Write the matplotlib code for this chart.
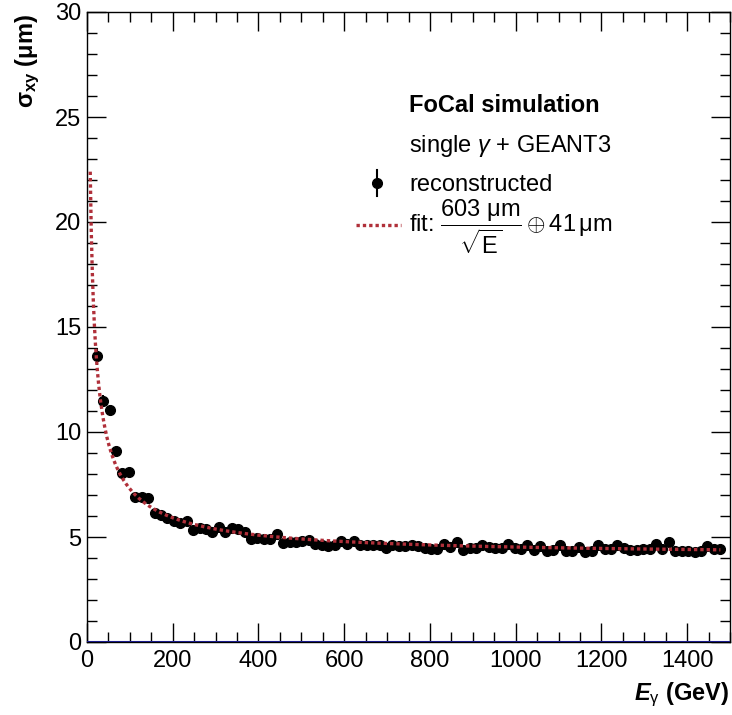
import matplotlib

matplotlib.use("Agg")

import matplotlib.pyplot as plt
import numpy as np
from matplotlib.ticker import MultipleLocator


# photon energy bin centres (GeV), 15 GeV wide bins
E_GAMMA: list[float] = [
    22.5, 37.5, 52.5, 67.5, 82.5, 97.5, 112.5, 127.5, 142.5, 157.5,
    172.5, 187.5, 202.5, 217.5, 232.5, 247.5, 262.5, 277.5, 292.5, 307.5,
    322.5, 337.5, 352.5, 367.5, 382.5, 397.5, 412.5, 427.5, 442.5, 457.5,
    472.5, 487.5, 502.5, 517.5, 532.5, 547.5, 562.5, 577.5, 592.5, 607.5,
    622.5, 637.5, 652.5, 667.5, 682.5, 697.5, 712.5, 727.5, 742.5, 757.5,
    772.5, 787.5, 802.5, 817.5, 832.5, 847.5, 862.5, 877.5, 892.5, 907.5,
    922.5, 937.5, 952.5, 967.5, 982.5, 997.5, 1012.5, 1027.5, 1042.5, 1057.5,
    1072.5, 1087.5, 1102.5, 1117.5, 1132.5, 1147.5, 1162.5, 1177.5, 1192.5, 1207.5,
    1222.5, 1237.5, 1252.5, 1267.5, 1282.5, 1297.5, 1312.5, 1327.5, 1342.5, 1357.5,
    1372.5, 1387.5, 1402.5, 1417.5, 1432.5, 1447.5, 1462.5, 1477.5,
]

# reconstructed position resolution
SIGMA_XY: list[float] = [
    13.60, 11.49, 11.06, 9.11, 8.05, 8.08, 6.90, 6.90, 6.86, 6.14,
    6.03, 5.90, 5.74, 5.69, 5.77, 5.32, 5.42, 5.36, 5.26, 5.46,
    5.25, 5.42, 5.40, 5.22, 4.92, 4.96, 4.92, 4.92, 5.12, 4.72,
    4.76, 4.77, 4.80, 4.88, 4.68, 4.64, 4.58, 4.64, 4.80, 4.66,
    4.82, 4.64, 4.62, 4.63, 4.60, 4.50, 4.60, 4.58, 4.58, 4.62,
    4.55, 4.48, 4.45, 4.43, 4.65, 4.53, 4.77, 4.36, 4.48, 4.48,
    4.64, 4.53, 4.48, 4.50, 4.66, 4.48, 4.45, 4.62, 4.40, 4.58,
    4.32, 4.40, 4.60, 4.32, 4.35, 4.52, 4.30, 4.32, 4.62, 4.45,
    4.45, 4.62, 4.50, 4.40, 4.38, 4.45, 4.42, 4.65, 4.45, 4.75,
    4.35, 4.35, 4.32, 4.30, 4.35, 4.58, 4.45, 4.45,
]

SIGMA_ERR: list[float] = [
    0.40, 0.26, 0.22, 0.18, 0.16, 0.14, 0.13, 0.12, 0.11, 0.10,
    0.10, 0.09, 0.09, 0.09, 0.08, 0.08, 0.08, 0.08, 0.08, 0.08,
    0.07, 0.07, 0.07, 0.07, 0.07, 0.07, 0.07, 0.07, 0.07, 0.07,
    0.07, 0.07, 0.07, 0.07, 0.07, 0.07, 0.07, 0.07, 0.07, 0.07,
    0.07, 0.07, 0.07, 0.07, 0.07, 0.07, 0.07, 0.07, 0.07, 0.07,
    0.07, 0.07, 0.07, 0.07, 0.07, 0.07, 0.07, 0.07, 0.07, 0.07,
    0.07, 0.07, 0.07, 0.07, 0.07, 0.07, 0.07, 0.07, 0.07, 0.07,
    0.07, 0.07, 0.07, 0.07, 0.07, 0.07, 0.07, 0.07, 0.07, 0.07,
    0.07, 0.07, 0.07, 0.07, 0.07, 0.07, 0.07, 0.07, 0.07, 0.07,
    0.07, 0.07, 0.07, 0.07, 0.07, 0.07, 0.07, 0.07,
]

# fit parameters (stochastic and constant term, in um)
FIT_STOCH: float = 603.0
FIT_CONST: float = 41.0
FIT_RANGE: tuple[float, float] = (7.5, 1477.5)
AXIS_UNIT: float = 10.0  # plotted values are in units of 10 um

X_MAX: float = 1500.0
Y_MAX: float = 30.0

FIT_COLOR = "#b0303a"
FONT = "Liberation Sans"
FS = 17

W, H = 732, 715


def fx(px: float) -> float:
    return px / W


def fy(py: float) -> float:
    return 1 - py / H


def setup_fonts() -> None:
    plt.rcParams["font.family"] = [FONT, "DejaVu Sans"]
    plt.rcParams["mathtext.fontset"] = "custom"
    plt.rcParams["mathtext.rm"] = FONT
    plt.rcParams["mathtext.it"] = f"{FONT}:italic"
    plt.rcParams["mathtext.bf"] = f"{FONT}:bold"
    plt.rcParams["mathtext.bfit"] = f"{FONT}:italic:bold"


def style_axes(ax: plt.Axes) -> None:
    ax.set_xlim(0, X_MAX)
    ax.set_ylim(0, Y_MAX)
    ax.xaxis.set_major_locator(MultipleLocator(200))
    ax.xaxis.set_minor_locator(MultipleLocator(50))
    ax.yaxis.set_major_locator(MultipleLocator(5))
    ax.yaxis.set_minor_locator(MultipleLocator(1))
    ax.tick_params(which="both", direction="in", top=True, right=True,
                   width=1.0, labelsize=FS)
    ax.tick_params(which="major", length=14)
    ax.tick_params(which="minor", length=7)
    ax.tick_params(axis="x", pad=6)
    ax.tick_params(axis="y", pad=4)
    for spine in ax.spines.values():
        spine.set_linewidth(1.0)


def draw_legend(fig: plt.Figure) -> None:
    fig.text(fx(409), fy(111.5), "FoCal simulation", fontsize=FS,
             fontweight="bold", va="baseline")
    fig.text(fx(409), fy(152), r"single $\gamma$ + GEANT3", fontsize=FS,
             va="baseline")
    fig.text(fx(409), fy(191), "reconstructed", fontsize=FS, va="baseline")
    fig.text(fx(409), fy(232),
             r"fit: $\dfrac{\mathrm{603\ μm}}{\sqrt{\mathrm{E}}}"
             r"\oplus \mathrm{41\,μm}$",
             fontsize=FS, va="baseline")

    # legend glyphs
    fig.lines.append(plt.Line2D([fx(377), fx(377)], [fy(170), fy(196)],
                                color="black", lw=1.5,
                                transform=fig.transFigure))
    fig.lines.append(plt.Line2D([fx(377)], [fy(183)], marker="o",
                                markersize=7, color="black",
                                transform=fig.transFigure))
    fig.lines.append(plt.Line2D([fx(356), fx(401)], [fy(225), fy(225)],
                                color=FIT_COLOR, lw=2.4,
                                linestyle=(0, (1, 0.9)),
                                transform=fig.transFigure))


def plot_resolution(save_path: str = "out.png") -> None:
    setup_fonts()
    fig = plt.figure(figsize=(W / 100, H / 100), dpi=100)
    ax = fig.add_axes([fx(87), fy(642), fx(730) - fx(87), fy(12) - fy(642)])

    ax.axhline(0, color="#1a1a8c", lw=2.2, zorder=3)

    ax.errorbar(E_GAMMA, SIGMA_XY, yerr=SIGMA_ERR, fmt="o", color="black",
                markersize=7, elinewidth=1.5, capsize=0, zorder=4)

    e = np.linspace(*FIT_RANGE, 600)
    fit = np.hypot(FIT_STOCH / np.sqrt(e), FIT_CONST) / AXIS_UNIT
    ax.plot(e, fit, color=FIT_COLOR, lw=2.4, linestyle=(0, (1, 0.9)),
            zorder=5)

    style_axes(ax)

    fig.text(fx(28), fy(14), r"σ$_{\mathbf{xy}}$ (μm)", rotation=90,
             fontsize=FS, fontweight="bold", ha="center", va="top")
    fig.text(fx(729), fy(700), r"$\mathbfit{E}_{\mathrm{γ}}$ (GeV)",
             fontsize=FS, fontweight="bold", ha="right", va="baseline")

    draw_legend(fig)

    fig.savefig(save_path, dpi=100)


def main() -> None:
    plot_resolution()


if __name__ == "__main__":
    main()
